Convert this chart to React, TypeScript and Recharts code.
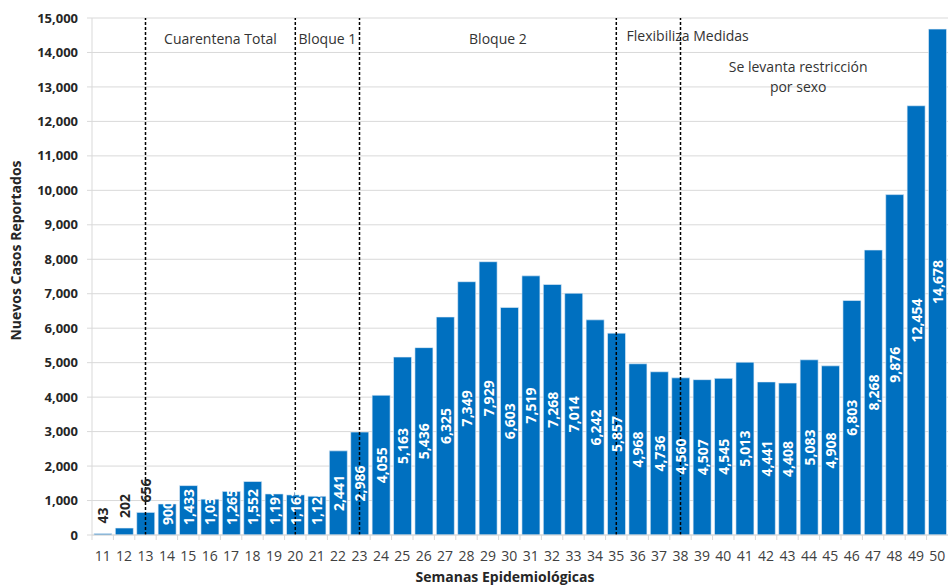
import { BarChart, Bar, XAxis, YAxis, CartesianGrid, ReferenceLine, ReferenceArea, LabelList } from "recharts";

// Semanas epidemiológicas y nuevos casos reportados
const WEEKS = [
  11, 12, 13, 14, 15, 16, 17, 18, 19, 20, 21, 22, 23, 24, 25, 26, 27, 28, 29, 30,
  31, 32, 33, 34, 35, 36, 37, 38, 39, 40, 41, 42, 43, 44, 45, 46, 47, 48, 49, 50,
];
const CASES = [
  43, 202, 656, 900, 1433, 1039, 1265, 1552, 1191, 1163, 1124, 2441, 2986, 4055, 5163, 5436, 6325, 7349, 7929, 6603,
  7519, 7268, 7014, 6242, 5857, 4968, 4736, 4560, 4507, 4545, 5013, 4441, 4408, 5083, 4908, 6803, 8268, 9876, 12454, 14678,
];
const Y_TICKS = [0, 1000, 2000, 3000, 4000, 5000, 6000, 7000, 8000, 9000, 10000, 11000, 12000, 13000, 14000, 15000];

// Cambios de medidas (semana donde se marca la línea)
const MARKERS = [13, 20, 23, 35, 38];
const PERIODS = [
  { from: 13, to: 20, text: "Cuarentena Total" },
  { from: 20, to: 23, text: "Bloque 1" },
  { from: 23, to: 35, text: "Bloque 2" },
];

const data = WEEKS.map((w, i) => ({ week: w, casos: CASES[i] }));

const FONT = "'Open Sans', 'Noto Sans', sans-serif";
const fmt = (v: number) => v.toLocaleString("en-US");

function BarValue(props: any) {
  const { x, y, width, height, value } = props;
  const label = fmt(value);
  const textW = label.replace(",", "").length * 8 + (label.includes(",") ? 4 : 0);
  const cx = x + width / 2;
  const base = y + height;
  if (height < 26) {
    // no cabe: se escribe encima de la barra
    const bottom = Math.min(base - 10, y - 10);
    return (
      <text x={cx} y={bottom} transform={`rotate(-90 ${cx} ${bottom})`} textAnchor="start" dominantBaseline="central"
        fill="#262626" fontSize={14} fontWeight={700} fontFamily={FONT}>{label}</text>
    );
  }
  const cy = Math.min(y + height / 2, base - 10 - textW / 2);
  return (
    <text x={cx} y={cy} transform={`rotate(-90 ${cx} ${cy})`} textAnchor="middle" dominantBaseline="central"
      fill="#ffffff" fontSize={14} fontWeight={700} fontFamily={FONT}>{label}</text>
  );
}

function WeekTick(props: any) {
  const { x, y, payload } = props;
  const half = 10.7;
  return (
    <g>
      <line x1={x - half} x2={x - half} y1={y - 8} y2={y - 3} stroke="#d9d9d9" />
      <text x={x} y={y + 12} textAnchor="middle" dominantBaseline="central" fill="#404040" fontSize={14} fontFamily={FONT}>
        {payload.value}
      </text>
    </g>
  );
}

function LevantaLabel(props: any) {
  const { viewBox } = props;
  const cx = viewBox.x + viewBox.width / 2;
  return (
    <text textAnchor="middle" fill="#333333" fontSize={14} fontFamily={FONT}>
      <tspan x={cx} y={viewBox.y + 54}>Se levanta restricción</tspan>
      <tspan x={cx} y={viewBox.y + 74}>por sexo</tspan>
    </text>
  );
}

export default function App() {
  return (
    <div style={{ position: "absolute", left: 0, top: 0, background: "#fff" }}>
      <BarChart width={949} height={585} data={data} margin={{ top: 18, right: 1, bottom: 0, left: 0 }}
        barCategoryGap="9%" style={{ fontFamily: FONT }}>
        <CartesianGrid vertical={false} stroke="#d9d9d9" />
        <XAxis
          dataKey="week"
          height={50}
          interval={0}
          axisLine={{ stroke: "#d9d9d9" }}
          tickLine={false}
          tick={<WeekTick />}
          label={{ value: "Semanas Epidemiológicas", position: "insideBottom", offset: 0, dx: -15, dy: -3,
            fill: "#262626", fontSize: 14, fontWeight: 700, fontFamily: FONT }}
        />
        <YAxis
          width={92}
          domain={[0, 15000]}
          ticks={Y_TICKS}
          interval={0}
          tickFormatter={fmt}
          axisLine={{ stroke: "#d9d9d9" }}
          tickLine={{ stroke: "#d9d9d9" }}
          tickSize={5}
          tickMargin={9}
          tick={{ fill: "#262626", fontSize: 13, fontWeight: 700, fontFamily: FONT }}
          label={{ value: "Nuevos Casos Reportados", angle: -90, position: "insideLeft", dx: 11, dy: -26,
            style: { textAnchor: "middle" }, fill: "#262626", fontSize: 14, fontWeight: 700, fontFamily: FONT }}
        />
        {PERIODS.map((p, i) => (
          <ReferenceArea key={p.text} x1={p.from} x2={p.to} fill="none" fillOpacity={0} stroke="none"
            label={{ value: p.text, position: "insideTop", offset: 16, dx: i === 2 ? 10 : 0,
              fill: "#333333", fontSize: 14, fontFamily: FONT }} />
        ))}
        <ReferenceArea x1={35} x2={38} fill="none" fillOpacity={0} stroke="none"
          label={{ value: "Flexibiliza Medidas", position: "insideTopLeft", offset: 10, dx: 11, dy: 3,
            fill: "#333333", fontSize: 14, fontFamily: FONT, style: { textAnchor: "start" } }} />
        <ReferenceArea x1={38} x2={49} fill="none" fillOpacity={0} stroke="none" label={<LevantaLabel />} />
        <Bar dataKey="casos" fill="#0070c0" stroke="#e8f0f8" strokeWidth={0.6} isAnimationActive={false}>
          <LabelList dataKey="casos" content={<BarValue />} />
        </Bar>
        {MARKERS.map((m) => (
          <ReferenceLine key={m} x={m} stroke="#000" strokeWidth={1.5} strokeDasharray="3 2" />
        ))}
      </BarChart>
    </div>
  );
}
